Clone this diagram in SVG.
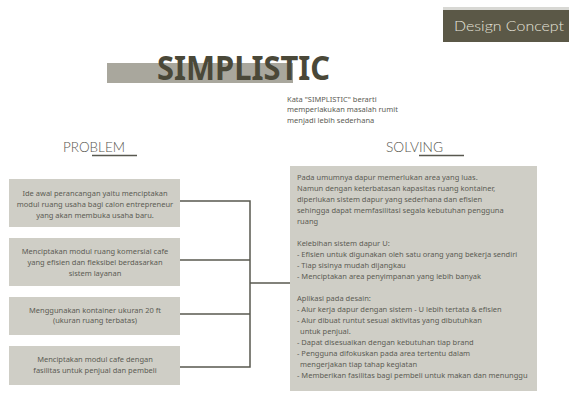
<svg xmlns="http://www.w3.org/2000/svg" width="569" height="393" viewBox="0 0 569 393">
<style>
.t{font-family:"Noto Sans","Liberation Sans",sans-serif;fill:#5c5c54;font-size:7.5px}
.c{text-anchor:middle}
.h{font-family:"Lato","Noto Sans","Liberation Sans",sans-serif;font-weight:300;fill:#55554d;font-size:14.5px}
.box{fill:#cfcec6}
.ln{stroke:#58584f;stroke-width:1.5;fill:none}
</style>
<rect width="569" height="393" fill="#ffffff"/>
<g id="design-concept">
<rect x="443" y="7" width="126" height="4" fill="#d8d8d4"/>
<rect x="443" y="10" width="126" height="32" fill="#5b5847"/>
<text x="509" y="31" text-anchor="middle" font-family="Lato, Noto Sans, Liberation Sans, sans-serif" font-weight="300" font-size="13.5" fill="#e6e4da" textLength="110" lengthAdjust="spacingAndGlyphs">Design Concept</text>
</g>
<g id="title">
<rect x="107" y="63" width="186" height="20" fill="#a9a79d"/>
<text x="157" y="80" font-family="Noto Sans, Liberation Sans, sans-serif" font-weight="bold" font-size="34" fill="#4a4838" textLength="173" lengthAdjust="spacingAndGlyphs">SIMPLISTIC</text>
<text class="t" x="287" y="101.5" font-size="6.9">Kata "SIMPLISTIC" berarti</text>
<text class="t" x="287" y="112" font-size="6.9">memperlakukan  masalah rumit</text>
<text class="t" x="287" y="122.5" font-size="6.9">menjadi lebih sederhana</text>
</g>
<g id="problem-heading">
<text class="h" x="63" y="152" textLength="62" lengthAdjust="spacingAndGlyphs">PROBLEM</text>
<line class="ln" x1="92" y1="155.5" x2="137" y2="155.5" stroke-width="1.2"/>
</g>
<g id="solving-heading">
<text class="h" x="386" y="152" textLength="57" lengthAdjust="spacingAndGlyphs">SOLVING</text>
<line class="ln" x1="419" y1="155.5" x2="464" y2="155.5" stroke-width="1.2"/>
</g>
<g id="connectors">
<polyline class="ln" points="180,201 250,201 250,367 180,367"/>
<line class="ln" x1="180" y1="260" x2="250" y2="260"/>
<line class="ln" x1="180" y1="314" x2="250" y2="314"/>
<line class="ln" x1="250" y1="283" x2="290" y2="283"/>
</g>
<g id="problem-1">
<rect class="box" x="9" y="179" width="171" height="48"/>
<text class="t c" x="95" y="196">Ide awal perancangan yaitu menciptakan</text>
<text class="t c" x="95" y="207">modul ruang usaha bagi calon entrepreneur</text>
<text class="t c" x="95" y="218">yang akan membuka usaha baru.</text>
</g>
<g id="problem-2">
<rect class="box" x="9" y="238" width="171" height="48"/>
<text class="t c" x="95" y="253.5">Menciptakan modul ruang komersial cafe</text>
<text class="t c" x="95" y="264.5">yang efisien dan fleksibel berdasarkan</text>
<text class="t c" x="95" y="275.5">sistem layanan</text>
</g>
<g id="problem-3">
<rect class="box" x="9" y="297" width="171" height="38"/>
<text class="t c" x="95" y="312.5">Menggunakan kontainer ukuran 20 ft</text>
<text class="t c" x="95" y="323">(ukuran ruang terbatas)</text>
</g>
<g id="problem-4">
<rect class="box" x="9" y="346" width="171" height="39"/>
<text class="t c" x="95" y="361.5">Menciptakan modul cafe dengan</text>
<text class="t c" x="95" y="373">fasilitas untuk penjual dan pembeli</text>
</g>
<g id="solving">
<rect class="box" x="290" y="166" width="247" height="225"/>
<text class="t" x="297" y="180">Pada umumnya dapur memerlukan area yang luas.</text>
<text class="t" x="297" y="191">Namun dengan keterbatasan kapasitas ruang kontainer,</text>
<text class="t" x="297" y="202">diperlukan sistem dapur yang sederhana dan efisien</text>
<text class="t" x="297" y="213">sehingga dapat memfasilitasi segala kebutuhan pengguna</text>
<text class="t" x="297" y="224">ruang</text>
<text class="t" x="297" y="246">Kelebihan sistem dapur U:</text>
<text class="t" x="297" y="257">- Efisien untuk digunakan oleh satu orang yang bekerja sendiri</text>
<text class="t" x="297" y="268">- Tiap sisinya mudah dijangkau</text>
<text class="t" x="297" y="279">- Menciptakan area penyimpanan yang lebih banyak</text>
<text class="t" x="297" y="301">Aplikasi pada desain:</text>
<text class="t" x="297" y="312">- Alur kerja dapur dengan sistem - U lebih tertata &amp; efisien</text>
<text class="t" x="297" y="323">- Alur dibuat runtut sesuai aktivitas yang dibutuhkan</text>
<text class="t" x="300" y="334">untuk penjual.</text>
<text class="t" x="297" y="345">- Dapat disesuaikan dengan kebutuhan tiap brand</text>
<text class="t" x="297" y="356">- Pengguna difokuskan pada area tertentu dalam</text>
<text class="t" x="300" y="367">mengerjakan tiap tahap kegiatan</text>
<text class="t" x="297" y="378">- Memberikan fasilitas bagi pembeli untuk makan dan menunggu</text>
</g>
</svg>
